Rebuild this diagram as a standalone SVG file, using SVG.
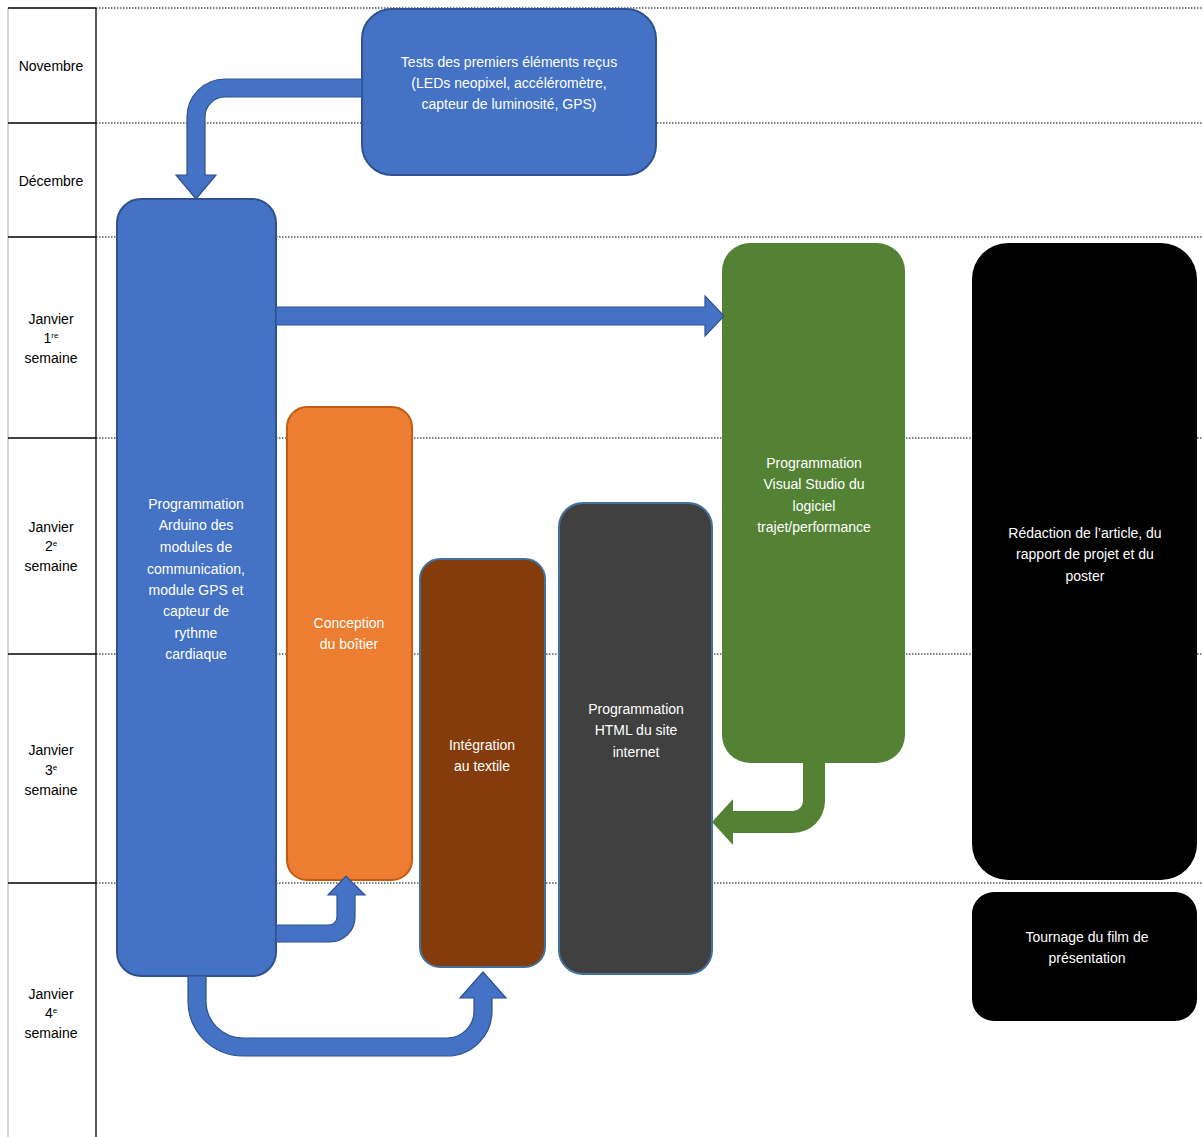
<svg xmlns="http://www.w3.org/2000/svg" width="1203" height="1137" viewBox="0 0 1203 1137">
<style>
text{font-family:"Liberation Sans",Arial,sans-serif;font-size:14px;text-anchor:middle}
.w{fill:#ffffff}
.k{fill:#000000}
.dot{stroke:#000;stroke-width:1;stroke-dasharray:1.5 1.5;fill:none}
.sol{stroke:#000;stroke-width:1.3;fill:none}
.blue{fill:#4472C4;stroke:#2F528F;stroke-width:2}
.arr{fill:#4472C4;stroke:#2F528F;stroke-width:1.2}
</style>
<rect width="1203" height="1137" fill="#fff"/>
<g id="grid">
<line x1="8" y1="8" x2="8" y2="1137" stroke="#bfbfbf" stroke-width="1.3"/>
<line class="sol" x1="96" y1="8" x2="96" y2="1137"/>
<line class="sol" x1="8" y1="8" x2="96" y2="8"/>
<line class="sol" x1="8" y1="123" x2="96" y2="123"/>
<line class="sol" x1="8" y1="237" x2="96" y2="237"/>
<line class="sol" x1="8" y1="438" x2="96" y2="438"/>
<line class="sol" x1="8" y1="654" x2="96" y2="654"/>
<line class="sol" x1="8" y1="883" x2="96" y2="883"/>
<line class="dot" x1="96" y1="8" x2="1203" y2="8"/>
<line class="dot" x1="96" y1="123" x2="1203" y2="123"/>
<line class="dot" x1="96" y1="237" x2="1203" y2="237"/>
<line class="dot" x1="96" y1="438" x2="1203" y2="438"/>
<line class="dot" x1="96" y1="654" x2="1203" y2="654"/>
<line class="dot" x1="96" y1="883" x2="1203" y2="883"/>
<text class="k" x="51" y="71">Novembre</text>
<text class="k" x="51" y="186">Décembre</text>
<text class="k" x="51" y="324">Janvier</text>
<text class="k" x="51" y="343">1<tspan font-size="8" dy="-5">re</tspan></text>
<text class="k" x="51" y="363">semaine</text>
<text class="k" x="51" y="532">Janvier</text>
<text class="k" x="51" y="551">2<tspan font-size="8" dy="-5">e</tspan></text>
<text class="k" x="51" y="571">semaine</text>
<text class="k" x="51" y="755">Janvier</text>
<text class="k" x="51" y="775">3<tspan font-size="8" dy="-5">e</tspan></text>
<text class="k" x="51" y="795">semaine</text>
<text class="k" x="51" y="999">Janvier</text>
<text class="k" x="51" y="1018">4<tspan font-size="8" dy="-5">e</tspan></text>
<text class="k" x="51" y="1038">semaine</text>
</g>
<g id="tests">
<rect class="blue" x="362" y="9" width="294" height="166" rx="30"/>
<text class="w" x="509" y="67">Tests des premiers éléments reçus</text>
<text class="w" x="509" y="88">(LEDs neopixel, accéléromètre,</text>
<text class="w" x="509" y="109">capteur de luminosité, GPS)</text>
</g>
<g id="arduino">
<rect class="blue" x="117" y="199" width="159" height="777" rx="24"/>
<text class="w" x="196" y="509">Programmation</text>
<text class="w" x="196" y="530">Arduino des</text>
<text class="w" x="196" y="552">modules de</text>
<text class="w" x="196" y="574">communication,</text>
<text class="w" x="196" y="595">module GPS et</text>
<text class="w" x="196" y="616">capteur de</text>
<text class="w" x="196" y="638">rythme</text>
<text class="w" x="196" y="659">cardiaque</text>
</g>
<g id="conception">
<rect x="287" y="407" width="125" height="473" rx="20" fill="#ED7D31" stroke="#C55A11" stroke-width="2"/>
<text class="w" x="349" y="628">Conception</text>
<text class="w" x="349" y="649">du boîtier</text>
</g>
<g id="integration">
<rect x="420" y="559" width="125" height="408" rx="20" fill="#843C0C" stroke="#41719C" stroke-width="2"/>
<text class="w" x="482" y="750">Intégration</text>
<text class="w" x="482" y="771">au textile</text>
</g>
<g id="html">
<rect x="559" y="503" width="153" height="471" rx="24" fill="#404040" stroke="#41719C" stroke-width="2"/>
<text class="w" x="636" y="714">Programmation</text>
<text class="w" x="636" y="735">HTML du site</text>
<text class="w" x="636" y="757">internet</text>
</g>
<g id="visual">
<rect x="722" y="243" width="183" height="520" rx="28" fill="#548235"/>
<text class="w" x="814" y="468">Programmation</text>
<text class="w" x="814" y="489">Visual Studio du</text>
<text class="w" x="814" y="511">logiciel</text>
<text class="w" x="814" y="532">trajet/performance</text>
</g>
<g id="redaction">
<rect x="972" y="243" width="225" height="637" rx="36" fill="#000"/>
<text class="w" x="1085" y="538">Rédaction de l’article, du</text>
<text class="w" x="1085" y="559">rapport de projet et du</text>
<text class="w" x="1085" y="581">poster</text>
</g>
<g id="tournage">
<rect x="972" y="892" width="225" height="129" rx="22" fill="#000"/>
<text class="w" x="1087" y="942">Tournage du film de</text>
<text class="w" x="1087" y="963">présentation</text>
</g>
<g id="connectors">
<path class="arr" d="M362,79 L225,79 A38,38 0 0 0 187,117 L187,175 L176,175 L196,199 L216,175 L205,175 L205,117 A20,20 0 0 1 225,97 L362,97 Z"/>
<path class="arr" d="M276,307 L705,307 L705,296 L724,316 L705,336 L705,325 L276,325 Z"/>
<path class="arr" d="M276,925 L329,925 A8,8 0 0 0 337,917 L337,895 L328,895 L346,876 L365,895 L355,895 L355,917 A25,25 0 0 1 330,942 L276,942 Z"/>
<path class="arr" d="M188,976 L188,1001 A55,55 0 0 0 243,1056 L447,1056 A45,45 0 0 0 492,1011 L492,998 L506,998 L483,972 L460,998 L474,998 L474,1011 A27,27 0 0 1 447,1038 L243,1038 A37,37 0 0 1 206,1001 L206,976 Z"/>
<path fill="#548235" d="M803,763 L803,801 A10,10 0 0 1 793,811 L733,811 L733,799 L712,822 L733,845 L733,833 L793,833 A32,32 0 0 0 825,801 L825,763 Z"/>
</g>
</svg>
